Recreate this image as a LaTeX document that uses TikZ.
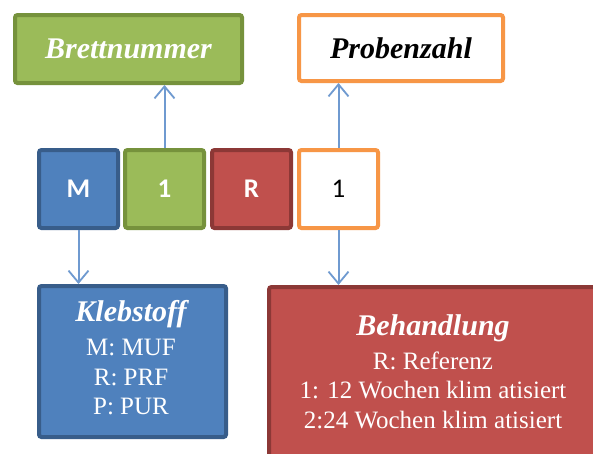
\documentclass[tikz,border=0pt]{standalone}
\usepackage{fontspec}
\setmainfont{Liberation Serif}
\newfontfamily\labelfont{Carlito}
\usetikzlibrary{arrows.meta}
\definecolor{gfill}{HTML}{9BBB59}
\definecolor{gdraw}{HTML}{76923C}
\definecolor{ofill}{HTML}{FFFFFF}
\definecolor{odraw}{HTML}{F79646}
\definecolor{bfill}{HTML}{4F81BD}
\definecolor{bdraw}{HTML}{385D8A}
\definecolor{rfill}{HTML}{C0504D}
\definecolor{rdraw}{HTML}{8C3836}
\definecolor{arrowc}{HTML}{6F9AD0}
\begin{document}
\begin{tikzpicture}[x=1pt,y=-1pt,
  box/.style={line width=4pt,rounded corners=2.5pt,inner sep=0pt,anchor=north west},
  gbox/.style={box,fill=gfill,draw=gdraw},
  obox/.style={box,fill=ofill,draw=odraw},
  bbox/.style={box,fill=bfill,draw=bdraw},
  rbox/.style={box,fill=rfill,draw=rdraw},
  title/.style={font=\fontsize{30}{32}\selectfont\bfseries\itshape},
  body/.style={font=\fontsize{25}{29.5}\selectfont,align=center,inner sep=0pt},
  small/.style={font=\labelfont\fontsize{27}{29}\selectfont\bfseries},
  conn/.style={draw=arrowc,line width=2pt,-{Straight Barb[length=12pt,width=20pt,line width=1.8pt]}}
]
\clip (0,0) rectangle (593,453);
\fill[white] (0,0) rectangle (593,453);
% top boxes
\node[gbox,minimum width=227pt,minimum height=68pt] (brett) at (13,13) {};
\node[title,text=white] at (brett.center) {Brettnummer};
\node[obox,minimum width=204pt,minimum height=66pt] (proben) at (297,13) {};
\node[title,text=black] at (proben.center) {Probenzahl};
% code boxes
\node[bbox,minimum width=79pt,minimum height=78pt] (m) at (37,148) {};
\node[small,text=white] at (m.center) {M};
\node[gbox,minimum width=79pt,minimum height=78pt] (one) at (123,148) {};
\node[small,text=white] at (one.center) {1};
\node[rbox,minimum width=79pt,minimum height=78pt] (r) at (210,148) {};
\node[small,text=white] at (r.center) {R};
\node[obox,minimum width=79pt,minimum height=78pt] (num) at (297,148) {};
\node[font=\labelfont\fontsize{27}{29}\selectfont,text=black] at (num.center) {1};
% bottom boxes
\node[bbox,minimum width=187pt,minimum height=151pt] (kleb) at (37,284) {};
\node[title,text=white] (klebt) at (131,314) {Klebstoff};
\node[body,text=white] at (131,377) {M: MUF\\R: PRF\\P: PUR};
\node[rbox,minimum width=340pt,minimum height=180pt] (beh) at (267,285) {};
\node[title,text=white] (beht) at (433,328) {Behandlung};
\node[body,text=white] at (433,390) {R: Referenz\\1: 12 Wochen klim atisiert\\2:24 Wochen klim atisiert};
% connectors
\draw[conn] (one.north) -- (brett.south -| one.north);
\draw[conn] (num.north) -- (proben.south -| num.north);
\draw[conn] (m.south) -- (kleb.north -| m.south);
\draw[conn] (num.south) -- (beh.north -| num.south);
\end{tikzpicture}
\end{document}
